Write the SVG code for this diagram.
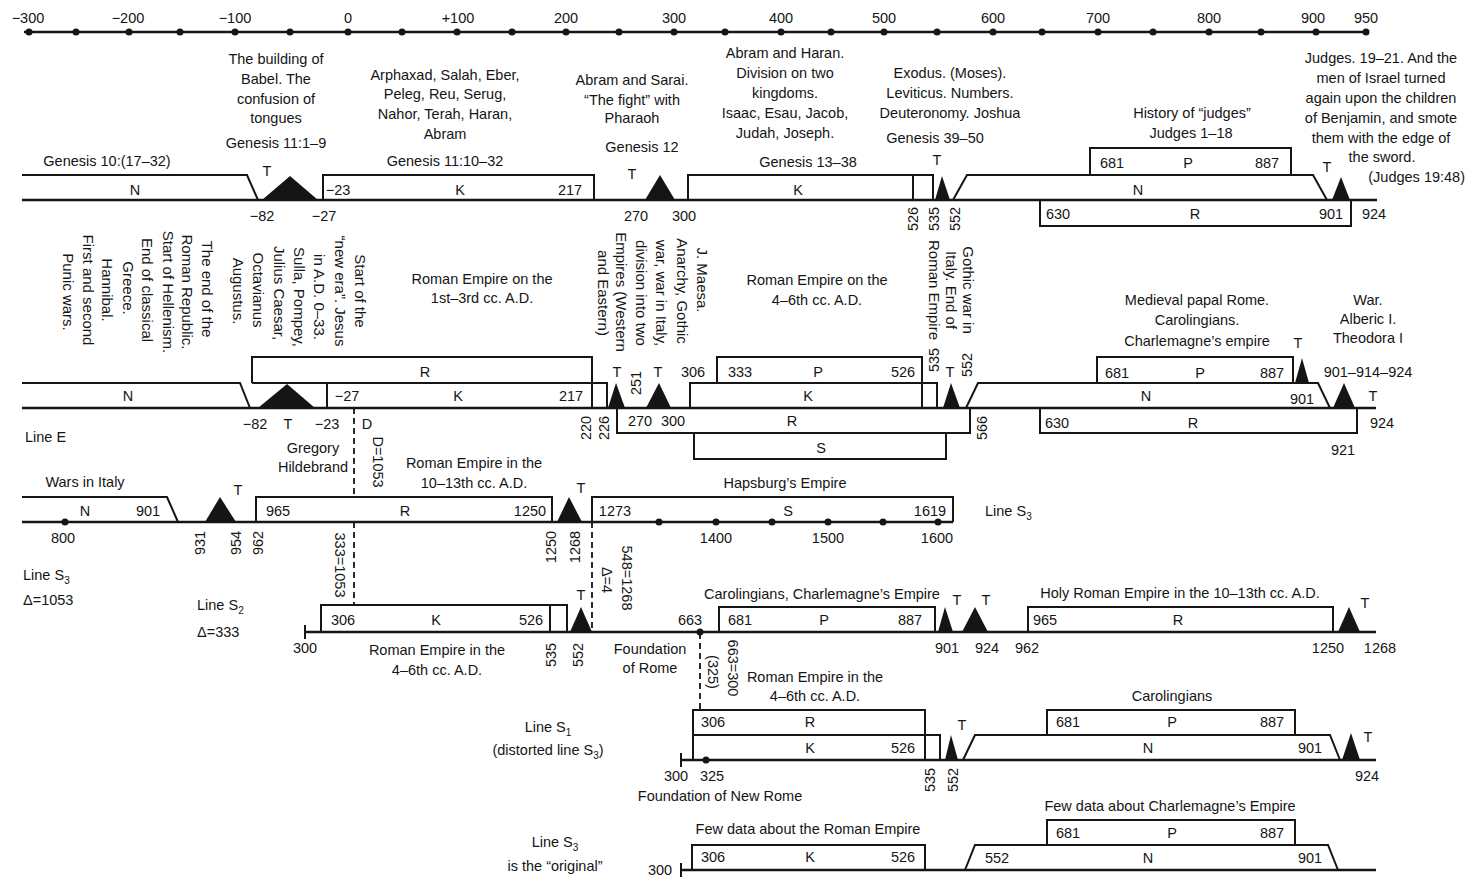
<svg xmlns="http://www.w3.org/2000/svg" width="1478" height="878" viewBox="0 0 1478 878">
<style>
text{font-family:"Liberation Sans",Arial,sans-serif;font-size:14.5px;fill:#151515}
.c{text-anchor:middle}
.v{font-size:15px;text-anchor:middle}
.n{text-anchor:middle}
.ln{fill:none;stroke:#151515;stroke-width:2;stroke-linejoin:miter}
.base{fill:none;stroke:#151515;stroke-width:2.6}
.tri{fill:#151515}
.dot{fill:#151515}
.dash{fill:none;stroke:#151515;stroke-width:1.8;stroke-dasharray:6 4}
.sub{font-size:10px}
</style>
<rect width="1478" height="878" fill="#fff"/>

<g id="axis">
<line class="base" x1="24" y1="32" x2="1366" y2="32"/>
<g class="dot">
<circle cx="29" cy="32" r="3.5"/><circle cx="76" cy="32" r="3.5"/><circle cx="129" cy="32" r="3.5"/><circle cx="180" cy="32" r="3.5"/><circle cx="235" cy="32" r="3.5"/><circle cx="290" cy="32" r="3.5"/><circle cx="348" cy="32" r="3.5"/><circle cx="402" cy="32" r="3.5"/><circle cx="457" cy="32" r="3.5"/><circle cx="512" cy="32" r="3.5"/><circle cx="566" cy="32" r="3.5"/><circle cx="619" cy="32" r="3.5"/><circle cx="674" cy="32" r="3.5"/><circle cx="725" cy="32" r="3.5"/><circle cx="781" cy="32" r="3.5"/><circle cx="831" cy="32" r="3.5"/><circle cx="884" cy="32" r="3.5"/><circle cx="937" cy="32" r="3.5"/><circle cx="993" cy="32" r="3.5"/><circle cx="1042" cy="32" r="3.5"/><circle cx="1098" cy="32" r="3.5"/><circle cx="1153" cy="32" r="3.5"/><circle cx="1209" cy="32" r="3.5"/><circle cx="1261" cy="32" r="3.5"/><circle cx="1316" cy="32" r="3.5"/><circle cx="1366" cy="32" r="3.5"/>
</g>
<g class="c">
<text x="28" y="23" class="c">−300</text><text x="128" y="23" class="c">−200</text><text x="235" y="23" class="c">−100</text><text x="348" y="23" class="c">0</text><text x="458" y="23" class="c">+100</text><text x="566" y="23" class="c">200</text><text x="674" y="23" class="c">300</text><text x="781" y="23" class="c">400</text><text x="884" y="23" class="c">500</text><text x="993" y="23" class="c">600</text><text x="1098" y="23" class="c">700</text><text x="1209" y="23" class="c">800</text><text x="1313" y="23" class="c">900</text><text x="1366" y="23" class="c">950</text>
</g>
</g>

<g id="line-bible">
<line class="base" x1="22" y1="200" x2="1377" y2="200"/>
<path class="ln" d="M22,175 H247 L258,200"/>
<polygon class="tri" points="262,200 290,176 318,200"/>
<path class="ln" d="M323,200 V175 H594 V200"/>
<polygon class="tri" points="645,200 660,175 675,200"/>
<path class="ln" d="M688,200 V175 H933 V200 M913,175 V200"/>
<polygon class="tri" points="935,200 942,176 950,200"/>
<path class="ln" d="M953,200 L967,175 H1313 L1327,200"/>
<path class="ln" d="M1090,175 V148 H1291 V175"/>
<path class="ln" d="M1040,200 V226 H1351 V200"/>
<polygon class="tri" points="1332,200 1341,177 1350,200"/>
<text x="107" y="166" class="c">Genesis 10:(17–32)</text>
<text x="276" y="64" class="c">The building of</text>
<text x="276" y="84" class="c">Babel. The</text>
<text x="276" y="104" class="c">confusion of</text>
<text x="276" y="123" class="c">tongues</text>
<text x="276" y="148" class="c">Genesis 11:1–9</text>
<text x="445" y="80" class="c">Arphaxad, Salah, Eber,</text>
<text x="445" y="99" class="c">Peleg, Reu, Serug,</text>
<text x="445" y="119" class="c">Nahor, Terah, Haran,</text>
<text x="445" y="139" class="c">Abram</text>
<text x="445" y="166" class="c">Genesis 11:10–32</text>
<text x="632" y="85" class="c">Abram and Sarai.</text>
<text x="632" y="105" class="c">“The fight” with</text>
<text x="632" y="123" class="c">Pharaoh</text>
<text x="642" y="152" class="c">Genesis 12</text>
<text x="785" y="58" class="c">Abram and Haran.</text>
<text x="785" y="78" class="c">Division on two</text>
<text x="785" y="98" class="c">kingdoms.</text>
<text x="785" y="118" class="c">Isaac, Esau, Jacob,</text>
<text x="785" y="138" class="c">Judah, Joseph.</text>
<text x="808" y="167" class="c">Genesis 13–38</text>
<text x="950" y="78" class="c">Exodus. (Moses).</text>
<text x="950" y="98" class="c">Leviticus. Numbers.</text>
<text x="950" y="118" class="c">Deuteronomy. Joshua</text>
<text x="935" y="143" class="c">Genesis 39–50</text>
<text x="1192" y="118" class="c">History of “judges”</text>
<text x="1191" y="138" class="c">Judges 1–18</text>
<text x="1381" y="63" class="c">Judges. 19–21. And the</text>
<text x="1381" y="83" class="c">men of Israel turned</text>
<text x="1381" y="103" class="c">again upon the children</text>
<text x="1381" y="123" class="c">of Benjamin, and smote</text>
<text x="1381" y="143" class="c">them with the edge of</text>
<text x="1382" y="162" class="c">the sword.</text>
<text x="1465" y="182" text-anchor="end">(Judges 19:48)</text>
<text x="267" y="176" class="c">T</text>
<text x="632" y="179" class="c">T</text>
<text x="937" y="165" class="c">T</text>
<text x="1327" y="172" class="c">T</text>
<text x="135" y="195" class="c">N</text>
<text x="338" y="195" class="c">−23</text>
<text x="460" y="195" class="c">K</text>
<text x="570" y="195" class="c">217</text>
<text x="798" y="195" class="c">K</text>
<text x="1112" y="168" class="c">681</text>
<text x="1188" y="168" class="c">P</text>
<text x="1267" y="168" class="c">887</text>
<text x="1138" y="195" class="c">N</text>
<text x="1058" y="219" class="c">630</text>
<text x="1195" y="219" class="c">R</text>
<text x="1331" y="219" class="c">901</text>
<text x="1374" y="219" class="c">924</text>
<text x="262" y="221" class="c">−82</text>
<text x="324" y="221" class="c">−27</text>
<text x="636" y="221" class="c">270</text>
<text x="684" y="221" class="c">300</text>
<text class="n" transform="translate(913,219) rotate(-90)" dy="0.35em">526</text>
<text class="n" transform="translate(934,219) rotate(-90)" dy="0.35em">535</text>
<text class="n" transform="translate(955,219) rotate(-90)" dy="0.35em">552</text>
</g>

<g id="line-E">
<line class="base" x1="22" y1="408" x2="1376" y2="408"/>
<path class="ln" d="M22,383 H240 L250,408"/>
<polygon class="tri" points="258,408 287,384 315,408"/>
<path class="ln" d="M252,383 V357 H592 V408 M252,383 H607 V408 M327,383 V408"/>
<polygon class="tri" points="608,408 616,383 625,408"/>
<polygon class="tri" points="646,408 659,383 671,408"/>
<path class="ln" d="M717,383 V357 H922 V408"/>
<path class="ln" d="M690,408 V383 H937 V408"/>
<polygon class="tri" points="943,408 951,383 960,408"/>
<path class="ln" d="M617,408 V433 H970 V408"/>
<path class="ln" d="M694,433 V459 H946 V433"/>
<path class="ln" d="M966,408 L978,383 H1318 L1330,408"/>
<path class="ln" d="M1097,383 V357 H1293 V383"/>
<polygon class="tri" points="1295,383 1302,358 1309,383"/>
<polygon class="tri" points="1333,408 1344,383 1355,408"/>
<path class="ln" d="M1040,408 V433 H1357 V408"/>
<text class="v" transform="translate(360,291) rotate(90)" dy="0.35em">Start of the</text>
<text class="v" transform="translate(340,291) rotate(90)" dy="0.35em">“new era”. Jesus</text>
<text class="v" transform="translate(319,297) rotate(90)" dy="0.35em">in A.D. 0–33.</text>
<text class="v" transform="translate(299,297) rotate(90)" dy="0.35em">Sulla, Pompey,</text>
<text class="v" transform="translate(279,293) rotate(90)" dy="0.35em">Julius Caesar,</text>
<text class="v" transform="translate(258,290) rotate(90)" dy="0.35em">Octavianus</text>
<text class="v" transform="translate(238,291) rotate(90)" dy="0.35em">Augustus.</text>
<text class="v" transform="translate(207,289) rotate(90)" dy="0.35em">The end of the</text>
<text class="v" transform="translate(187,292) rotate(90)" dy="0.35em">Roman Republic.</text>
<text class="v" transform="translate(168,292) rotate(90)" dy="0.35em">Start of Hellenism.</text>
<text class="v" transform="translate(147,290) rotate(90)" dy="0.35em">End of classical</text>
<text class="v" transform="translate(128,288) rotate(90)" dy="0.35em">Greece.</text>
<text class="v" transform="translate(107,290) rotate(90)" dy="0.35em">Hannibal.</text>
<text class="v" transform="translate(88,290) rotate(90)" dy="0.35em">First and second</text>
<text class="v" transform="translate(68,292) rotate(90)" dy="0.35em">Punic wars.</text>
<text class="v" transform="translate(702,280) rotate(90)" dy="0.35em">J. Maesa.</text>
<text class="v" transform="translate(682,291) rotate(90)" dy="0.35em">Anarchy, Gothic</text>
<text class="v" transform="translate(661,293) rotate(90)" dy="0.35em">war, war in Italy,</text>
<text class="v" transform="translate(641,293) rotate(90)" dy="0.35em">division into two</text>
<text class="v" transform="translate(621,292) rotate(90)" dy="0.35em">Empires (Western</text>
<text class="v" transform="translate(603,293) rotate(90)" dy="0.35em">and Eastern)</text>
<text class="v" transform="translate(968,290) rotate(90)" dy="0.35em">Gothic war in</text>
<text class="v" transform="translate(951,290) rotate(90)" dy="0.35em">Italy. End of</text>
<text class="v" transform="translate(934,290) rotate(90)" dy="0.35em">Roman Empire</text>
<text x="482" y="284" class="c">Roman Empire on the</text>
<text x="482" y="303" class="c">1st–3rd cc. A.D.</text>
<text x="817" y="285" class="c">Roman Empire on the</text>
<text x="817" y="305" class="c">4–6th cc. A.D.</text>
<text x="1197" y="305" class="c">Medieval papal Rome.</text>
<text x="1197" y="325" class="c">Carolingians.</text>
<text x="1197" y="346" class="c">Charlemagne’s empire</text>
<text x="1368" y="305" class="c">War.</text>
<text x="1368" y="324" class="c">Alberic I.</text>
<text x="1368" y="343" class="c">Theodora I</text>
<text x="1298" y="348" class="c">T</text>
<text x="1368" y="377" class="c">901–914–924</text>
<text x="1302" y="404" class="c">901</text>
<text x="1373" y="401" class="c">T</text>
<text x="1117" y="378" class="c">681</text>
<text x="1200" y="378" class="c">P</text>
<text x="1272" y="378" class="c">887</text>
<text x="1146" y="401" class="c">N</text>
<text x="1057" y="428" class="c">630</text>
<text x="1193" y="428" class="c">R</text>
<text x="1382" y="428" class="c">924</text>
<text x="1343" y="455" class="c">921</text>
<text x="128" y="401" class="c">N</text>
<text x="425" y="377" class="c">R</text>
<text x="347" y="401" class="c">−27</text>
<text x="458" y="401" class="c">K</text>
<text x="571" y="401" class="c">217</text>
<text x="617" y="377" class="c">T</text>
<text class="n" transform="translate(636,383) rotate(-90)" dy="0.35em">251</text>
<text x="658" y="377" class="c">T</text>
<text x="693" y="377" class="c">306</text>
<text x="740" y="377" class="c">333</text>
<text x="818" y="377" class="c">P</text>
<text x="903" y="377" class="c">526</text>
<text x="808" y="401" class="c">K</text>
<text class="n" transform="translate(934,360) rotate(-90)" dy="0.35em">535</text>
<text x="950" y="377" class="c">T</text>
<text class="n" transform="translate(967,365) rotate(-90)" dy="0.35em">552</text>
<text x="640" y="426" class="c">270</text>
<text x="673" y="426" class="c">300</text>
<text x="792" y="426" class="c">R</text>
<text x="821" y="453" class="c">S</text>
<text class="n" transform="translate(586,428) rotate(-90)" dy="0.35em">220</text>
<text class="n" transform="translate(604,428) rotate(-90)" dy="0.35em">226</text>
<text class="n" transform="translate(982,428) rotate(-90)" dy="0.35em">566</text>
<text x="25" y="442">Line E</text>
<text x="255" y="429" class="c">−82</text>
<text x="288" y="429" class="c">T</text>
<text x="327" y="429" class="c">−23</text>
<text x="367" y="429" class="c">D</text>
<text x="313" y="453" class="c">Gregory</text>
<text x="313" y="472" class="c">Hildebrand</text>
<text class="n" transform="translate(378,462) rotate(90)" dy="0.35em">D=1053</text>
</g>

<g id="line-S3">
<line class="base" x1="22" y1="522" x2="953" y2="522"/>
<path class="ln" d="M22,497 H167 L178,522"/>
<polygon class="tri" points="205,522 220,497 236,522"/>
<path class="ln" d="M256,522 V497 H552 V522"/>
<polygon class="tri" points="557,522 569,497 582,522"/>
<path class="ln" d="M592,522 V497 H953 V522"/>
<g class="dot">
<circle cx="65" cy="522" r="3.5"/><circle cx="659" cy="522" r="3.5"/><circle cx="716" cy="522" r="3.5"/><circle cx="772" cy="522" r="3.5"/><circle cx="828" cy="522" r="3.5"/><circle cx="883" cy="522" r="3.5"/><circle cx="938" cy="522" r="3.5"/>
</g>
<text x="85" y="487" class="c">Wars in Italy</text>
<text x="474" y="468" class="c">Roman Empire in the</text>
<text x="474" y="488" class="c">10–13th cc. A.D.</text>
<text x="785" y="488" class="c">Hapsburg’s  Empire</text>
<text x="238" y="495" class="c">T</text>
<text x="581" y="493" class="c">T</text>
<text x="85" y="516" class="c">N</text>
<text x="148" y="516" class="c">901</text>
<text x="278" y="516" class="c">965</text>
<text x="405" y="516" class="c">R</text>
<text x="530" y="516" class="c">1250</text>
<text x="615" y="516" class="c">1273</text>
<text x="788" y="516" class="c">S</text>
<text x="930" y="516" class="c">1619</text>
<text x="985" y="516">Line S<tspan class="sub" dy="4">3</tspan></text>
<text x="63" y="543" class="c">800</text>
<text x="716" y="543" class="c">1400</text>
<text x="828" y="543" class="c">1500</text>
<text x="937" y="543" class="c">1600</text>
<text class="n" transform="translate(200,543) rotate(-90)" dy="0.35em">931</text>
<text class="n" transform="translate(236,543) rotate(-90)" dy="0.35em">954</text>
<text class="n" transform="translate(258,543) rotate(-90)" dy="0.35em">962</text>
<text class="n" transform="translate(551,547) rotate(-90)" dy="0.35em">1250</text>
<text class="n" transform="translate(575,547) rotate(-90)" dy="0.35em">1268</text>
<text x="23" y="580">Line S<tspan class="sub" dy="4">3</tspan></text>
<text x="23" y="605">Δ=1053</text>
</g>

<g id="line-S2">
<line class="base" x1="305" y1="632" x2="1376" y2="632"/>
<line class="ln" x1="305" y1="625" x2="305" y2="639"/>
<path class="ln" d="M321,632 V605 H567 V632 M550,605 V632"/>
<polygon class="tri" points="570,632 581,607 592,632"/>
<circle class="dot" cx="700" cy="632" r="3.5"/>
<path class="ln" d="M719,632 V607 H935 V632"/>
<polygon class="tri" points="938,632 945,607 953,632"/>
<polygon class="tri" points="962,632 975,607 988,632"/>
<path class="ln" d="M1028,632 V607 H1333 V632"/>
<polygon class="tri" points="1338,632 1349,607 1360,632"/>
<text x="197" y="610">Line S<tspan class="sub" dy="4">2</tspan></text>
<text x="197" y="637">Δ=333</text>
<text class="n" transform="translate(340,565) rotate(90)" dy="0.35em">333=1053</text>
<text x="343" y="625" class="c">306</text>
<text x="436" y="625" class="c">K</text>
<text x="531" y="625" class="c">526</text>
<text x="305" y="653" class="c">300</text>
<text x="437" y="655" class="c">Roman Empire in the</text>
<text x="437" y="675" class="c">4–6th cc. A.D.</text>
<text class="n" transform="translate(551,655) rotate(-90)" dy="0.35em">535</text>
<text class="n" transform="translate(578,655) rotate(-90)" dy="0.35em">552</text>
<text x="581" y="600" class="c">T</text>
<text class="n" transform="translate(607,580) rotate(90)" dy="0.35em">Δ=4</text>
<text class="n" transform="translate(627,578) rotate(90)" dy="0.35em">548=1268</text>
<text x="650" y="654" class="c">Foundation</text>
<text x="650" y="673" class="c">of Rome</text>
<text x="690" y="625" class="c">663</text>
<text class="n" transform="translate(713,672) rotate(90)" dy="0.35em">(325)</text>
<text class="n" transform="translate(733,668) rotate(90)" dy="0.35em">663=300</text>
<text x="822" y="599" class="c">Carolingians, Charlemagne’s Empire</text>
<text x="740" y="625" class="c">681</text>
<text x="824" y="625" class="c">P</text>
<text x="910" y="625" class="c">887</text>
<text x="957" y="605" class="c">T</text>
<text x="986" y="605" class="c">T</text>
<text x="947" y="653" class="c">901</text>
<text x="987" y="653" class="c">924</text>
<text x="1027" y="653" class="c">962</text>
<text x="1180" y="598" class="c">Holy Roman Empire in the 10–13th cc. A.D.</text>
<text x="1045" y="625" class="c">965</text>
<text x="1178" y="625" class="c">R</text>
<text x="1365" y="608" class="c">T</text>
<text x="1328" y="653" class="c">1250</text>
<text x="1380" y="653" class="c">1268</text>
</g>

<g id="line-S1">
<line class="base" x1="681" y1="760" x2="1376" y2="760"/>
<line class="ln" x1="681" y1="753" x2="681" y2="767"/>
<circle class="dot" cx="706" cy="760" r="3.5"/>
<path class="ln" d="M693,760 V710 H925 V760 M693,735 H940 V760"/>
<polygon class="tri" points="945,760 951,735 958,760"/>
<path class="ln" d="M963,760 L975,735 H1330 L1340,760"/>
<path class="ln" d="M1047,735 V710 H1295 V735"/>
<polygon class="tri" points="1342,760 1351,733 1360,760"/>
<text x="815" y="682" class="c">Roman Empire in the</text>
<text x="815" y="701" class="c">4–6th cc. A.D.</text>
<text x="548" y="732" class="c">Line S<tspan class="sub" dy="4">1</tspan></text>
<text x="548" y="755" class="c">(distorted line S<tspan class="sub" dy="4">3</tspan><tspan dy="-4">)</tspan></text>
<text x="713" y="727" class="c">306</text>
<text x="810" y="727" class="c">R</text>
<text x="810" y="753" class="c">K</text>
<text x="903" y="753" class="c">526</text>
<text x="962" y="730" class="c">T</text>
<text x="1172" y="701" class="c">Carolingians</text>
<text x="1068" y="727" class="c">681</text>
<text x="1172" y="727" class="c">P</text>
<text x="1272" y="727" class="c">887</text>
<text x="1148" y="753" class="c">N</text>
<text x="1310" y="753" class="c">901</text>
<text x="1368" y="742" class="c">T</text>
<text x="676" y="781" class="c">300</text>
<text x="712" y="781" class="c">325</text>
<text x="720" y="801" class="c">Foundation of New Rome</text>
<text class="n" transform="translate(930,780) rotate(-90)" dy="0.35em">535</text>
<text class="n" transform="translate(953,780) rotate(-90)" dy="0.35em">552</text>
<text x="1367" y="781" class="c">924</text>
</g>

<g id="line-S3-original">
<line class="base" x1="681" y1="870" x2="1376" y2="870"/>
<line class="ln" x1="681" y1="863" x2="681" y2="877"/>
<path class="ln" d="M692,870 V845 H925 V870"/>
<path class="ln" d="M965,870 L975,845 H1328 L1338,870"/>
<path class="ln" d="M1047,845 V820 H1295 V845"/>
<text x="555" y="847" class="c">Line S<tspan class="sub" dy="4">3</tspan></text>
<text x="555" y="871" class="c">is the “original”</text>
<text x="808" y="834" class="c">Few data about the Roman Empire</text>
<text x="713" y="862" class="c">306</text>
<text x="810" y="862" class="c">K</text>
<text x="903" y="862" class="c">526</text>
<text x="660" y="875" class="c">300</text>
<text x="1170" y="811" class="c">Few data about Charlemagne’s Empire</text>
<text x="1068" y="838" class="c">681</text>
<text x="1172" y="838" class="c">P</text>
<text x="1272" y="838" class="c">887</text>
<text x="997" y="863" class="c">552</text>
<text x="1148" y="863" class="c">N</text>
<text x="1310" y="863" class="c">901</text>
</g>

<g id="connectors">
<path class="dash" d="M354,408 V497 M354,522 V605"/>
<path class="dash" d="M592,522 V632"/>
<path class="dash" d="M700,633 V710"/>
</g>
</svg>
